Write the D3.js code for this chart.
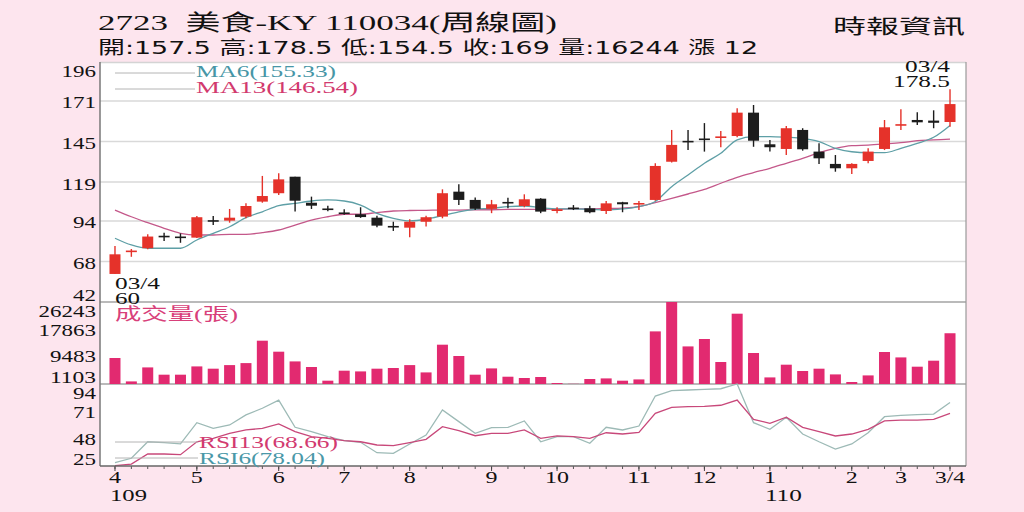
<!DOCTYPE html>
<html>
<head>
<meta charset="utf-8">
<script src="https://cdn.jsdelivr.net/npm/d3@7"></script>
<style>
body { margin: 0; background: #fde5ee; }
svg { display: block; }
</style>
</head>
<body>
<script>
// weekly candles, 109/03 .. 110/03/04
var opens  = [60, 74, 76.5, 84, 83.5, 83.3, 94, 94.2, 96.8, 106.4,
              111.8, 122.4, 105.7, 101.5, 99.4, 98.3, 96.1, 90.3, 89.7, 93.5,
              96.8, 112.8, 107.5, 101.8, 105.7, 103.6, 108.3, 100.4, 102.1, 102.1,
              100.4, 106, 104.8, 107.5, 132, 144.9, 146.4, 147.5, 148.5, 163.5,
              143.2, 140.2, 152.4, 138.5, 130.6, 127.8, 132.5, 140.2, 155.4, 158.8,
              158.4, 157.5];
var highs  = [78, 76, 85.5, 86.4, 86, 97.2, 97.2, 101.7, 105.3, 122.9,
              124.6, 122.4, 109.6, 103.8, 101.5, 102.8, 97.4, 93.5, 95.1, 97.4,
              114.3, 117.5, 109, 107.5, 108.9, 111.1, 108.6, 102.8, 104.2, 103.8,
              106.8, 106.3, 106.8, 131, 152.4, 152.4, 156.8, 151.8, 166.3, 168.4,
              146, 155, 153.5, 143.8, 136.3, 131, 140.6, 158.8, 165.7, 163.7,
              165, 178.5];
var lows   = [60, 71, 75.8, 81.2, 80, 83, 91.4, 92.9, 95.8, 105.7,
              110.7, 100, 101.7, 100.2, 98, 96, 89.9, 87.6, 83.5, 90.4,
              95.7, 104.3, 101, 99, 102.1, 102.8, 99, 99, 101, 99,
              98.5, 99.6, 101, 107, 131.5, 139.6, 138.5, 141.3, 147.7, 141.6,
              138.5, 136.3, 139.1, 130.5, 125.6, 124.2, 131, 139.5, 152.4, 155.6,
              153.5, 154.5];
var closes = [72.6, 75, 84, 84, 83.5, 96.4, 94, 96.1, 103.6, 110,
              120.7, 107, 103.8, 101.5, 98.5, 96.5, 91, 90.3, 93.5, 96.4,
              111.8, 107.5, 101.8, 104.7, 105.7, 107.9, 100, 101.5, 102.1, 99.6,
              105.3, 104.7, 105.2, 129.3, 142.8, 144.9, 146.4, 148, 163.5, 145.5,
              141.3, 153.5, 140, 134.2, 127.8, 130.6, 138.5, 154.1, 155.8, 157.3,
              157, 169];
var volumes = [8320, 830, 5310, 2980, 2980, 5630, 4900, 6050, 6690, 13860,
               10340, 7230, 5440, 1060, 4260, 4030, 4900, 5120, 6050, 3710,
               12580, 8960, 2980, 4990, 2330, 1920, 2240, 320, 60, 1600,
               1790, 1060, 1470, 16840, 26243, 12030, 14400, 7040, 22500, 9920,
               2110, 6180, 4160, 4900, 3070, 640, 2750, 10240, 8510, 5540,
               7460, 16244];
var ma6  = [82.9, 78.6, 76.5, 76.5, 76.5, 81.8, 86.1, 90.3, 96.1, 99.9,
            103.8, 105.3, 106.8, 107.5, 106.8, 104.2, 98.9, 95.7, 94, 95.1,
            97.4, 99.9, 101.5, 102.1, 103.2, 103.6, 102.5, 101.7, 101.7, 101.5,
            101, 101.7, 103.2, 106.5, 116, 123.5, 131, 137.4, 146, 148.1,
            148.1, 147.7, 147, 144.9, 140.6, 138.4, 137.8, 137.8, 140.6, 143.8,
            147.7, 155.33];
var ma13 = [101, 96.7, 92.9, 89.3, 86.1, 85, 85, 85.4, 85.4, 86.5,
            88.2, 91.4, 94.6, 96.7, 98.3, 98.3, 99.4, 100.4, 100.7, 100.8,
            101, 101, 101.2, 101.2, 101.4, 101.4, 101.5, 101.6, 101.7, 101.7,
            102, 102.3, 103.2, 105.8, 108.5, 111.3, 114.3, 118.2, 122, 125,
            127.8, 131, 134.2, 137.8, 140.6, 142.3, 142.7, 143.4, 144.2, 145.5,
            146, 146.54];
var rsi6  = [25.9, 29.7, 44, 43.2, 42.1, 60.5, 55.6, 58.5, 67.2, 73,
             80.1, 56.5, 52.7, 48.4, 44.9, 43.5, 34.5, 34, 42.1, 49.8,
             71.5, 61.4, 51.3, 56.2, 56.4, 62, 44, 48.4, 48.4, 42.7,
             56.5, 54.2, 57.6, 83.6, 88.2, 88.8, 89.4, 89.9, 94, 60.5,
             54.8, 65.2, 50.7, 44, 37.7, 42.1, 51.8, 65.7, 66.9, 67.4,
             68, 78.04];
var rsi13 = [23.3, 24.7, 33.4, 33.4, 32.8, 44, 47, 51.3, 54.2, 55.6,
             59.4, 52.7, 48.4, 47, 44.9, 44, 41.2, 40.6, 43.2, 46.1,
             57, 53.6, 49.2, 51.3, 51.3, 54.2, 47, 49, 48.4, 47,
             51.8, 50.7, 52.1, 68.6, 73.8, 74.4, 74.7, 75.6, 80.1, 63.4,
             60, 65.2, 56.5, 52.7, 49, 50.7, 54.8, 62, 62.8, 62.8,
             63.4, 68.66];

var priceTicks = [42, 68, 94, 119, 145, 171, 196];
var volTicks = [1103, 9483, 17863, 26243];
var rsiTicks = [25, 48, 71, 94];
var monthIdx = [0, 5, 10, 14, 18, 23, 27, 32, 36, 40, 45, 48, 51];
var monthLabels = ["4", "5", "6", "7", "8", "9", "10", "11", "12", "1", "2", "3", "3/4"];
var yearIdx = [0, 40];
var yearLabels = ["109", "110"];

var serif = "'Liberation Serif', 'DejaVu Serif', serif";
var cjk = "'Liberation Serif', 'Noto Sans CJK TC', serif";

var W = 1024, H = 512;
var pLeft = 100, pRight = 966, pTop = 62, priceBottom = 302, volBottom = 384, pBottom = 466;

var svg = d3.select("body")
            .append("svg")
            .attr('width', W)
            .attr('height', H);

svg.append("rect").attr('width', W).attr('height', H).attr('fill', "#fde5ee");
svg.append("rect")
   .attr('x', pLeft).attr('y', pTop)
   .attr('width', pRight - pLeft).attr('height', pBottom - pTop)
   .attr('fill', "#fff");

var xScale = d3.scaleBand()
               .domain(d3.range(opens.length))
               .range([106.8, 958.2]);
function cx(i){ return xScale(i) + xScale.bandwidth() / 2; }

var yPrice = d3.scaleLinear().domain([42, 196]).range([priceBottom, pTop]);
var yVol = d3.scaleLinear().domain([0, 26243]).range([volBottom, priceBottom]);
var yRsi = d3.scaleLinear().domain([23, 94]).range([pBottom, volBottom]);

function label(x, y, str, size, family, color, anchor, len) {
    var t = svg.append("text")
               .attr('x', x).attr('y', y)
               .attr('font-size', size)
               .attr('font-family', family)
               .attr('fill', color)
               .attr('text-anchor', anchor || "start")
               .attr('dominant-baseline', "central")
               .text(str);
    if (len) t.attr('textLength', len).attr('lengthAdjust', "spacingAndGlyphs");
    return t;
}

// grid in the price panel
svg.selectAll("line.grid")
   .data(priceTicks.slice(1, -1))
   .enter()
   .append("line")
   .attr('class', "grid")
   .attr('x1', pLeft).attr('x2', pRight)
   .attr('y1', function(d){ return yPrice(d); })
   .attr('y2', function(d){ return yPrice(d); })
   .attr('stroke', "#d9d9d9")
   .attr('stroke-width', 1.5);

// panel frames
svg.append("line").attr('x1', pLeft).attr('x2', pRight).attr('y1', pTop + 0.5).attr('y2', pTop + 0.5)
   .attr('stroke', "#d4d4d4").attr('stroke-width', 1.5);
[priceBottom, volBottom].forEach(function(y){
    svg.append("line").attr('x1', pLeft).attr('x2', pRight).attr('y1', y).attr('y2', y)
       .attr('stroke', "#777").attr('stroke-width', 1.2);
});
svg.append("line").attr('x1', pRight).attr('x2', pRight).attr('y1', pTop).attr('y2', pBottom)
   .attr('stroke', "#999").attr('stroke-width', 1.2);

// left axes
function leftAxis(scale, ticks, y0, y1) {
    var g = svg.append("g")
               .attr('transform', "translate(96,0)")
               .call(d3.axisLeft(scale).tickValues(ticks).tickSize(0).tickPadding(0)
                       .tickFormat(d3.format("d")));
    g.select(".domain").remove();
    g.selectAll(".tick text")
     .attr('font-family', serif)
     .attr('font-size', 17)
     .attr('fill', "#111")
     .attr('dy', null)
     .attr('dominant-baseline', "central")
     .attr('y', function(d){
         var p = scale(d);
         return Math.max(y0 + 9, Math.min(y1 - 7, p + 1.5)) - p;
     })
     .attr('textLength', function(d){ return String(d).length * 11.5; })
     .attr('lengthAdjust', "spacingAndGlyphs");
}
leftAxis(yPrice, priceTicks, pTop, priceBottom);
leftAxis(yVol, volTicks, priceBottom, volBottom);
leftAxis(yRsi, rsiTicks, volBottom, pBottom);

svg.append("line").attr('x1', pLeft).attr('x2', pLeft).attr('y1', pTop).attr('y2', pBottom)
   .attr('stroke', "#777").attr('stroke-width', 1.5);

// moving averages
var maLine = d3.line()
               .x(function(d, i){ return cx(i); })
               .y(function(d){ return yPrice(d); })
               .curve(d3.curveMonotoneX);
svg.append("path").attr('d', maLine(ma13)).attr('fill', "none")
   .attr('stroke', "#c4588a").attr('stroke-width', 1.3);
svg.append("path").attr('d', maLine(ma6)).attr('fill', "none")
   .attr('stroke', "#5e9fa6").attr('stroke-width', 1.3);

// candles
var idx = d3.range(opens.length);
function candleColor(i) { return closes[i] > opens[i] ? "#e5322a" : "#1c1c1c"; }
var bodyW = 11;

svg.selectAll("line.wick")
   .data(idx)
   .enter()
   .append("line")
   .attr('class', "wick")
   .attr('x1', function(i){ return cx(i); })
   .attr('x2', function(i){ return cx(i); })
   .attr('y1', function(i){ return yPrice(highs[i]); })
   .attr('y2', function(i){ return yPrice(lows[i]); })
   .attr('stroke', candleColor)
   .attr('stroke-width', 1.4);

svg.selectAll("rect.body")
   .data(idx)
   .enter()
   .append("rect")
   .attr('class', "body")
   .attr('x', function(i){ return cx(i) - bodyW / 2; })
   .attr('y', function(i){
       var h = Math.abs(yPrice(opens[i]) - yPrice(closes[i]));
       return yPrice(Math.max(opens[i], closes[i])) - (h < 1.6 ? (1.6 - h) / 2 : 0);
   })
   .attr('width', bodyW)
   .attr('height', function(i){ return Math.max(1.6, Math.abs(yPrice(opens[i]) - yPrice(closes[i]))); })
   .attr('fill', candleColor);

// volume bars
svg.selectAll("rect.vol")
   .data(volumes)
   .enter()
   .append("rect")
   .attr('class', "vol")
   .attr('x', function(d, i){ return cx(i) - 5.5; })
   .attr('y', function(d){ return yVol(d); })
   .attr('width', 11)
   .attr('height', function(d){ return volBottom - yVol(d); })
   .attr('fill', "#e22a70");

// RSI
var rsiLine = d3.line()
                .x(function(d, i){ return cx(i); })
                .y(function(d){ return yRsi(d); });
svg.append("path").attr('d', rsiLine(rsi6)).attr('fill', "none")
   .attr('stroke', "#9dbab6").attr('stroke-width', 1.3);
svg.append("path").attr('d', rsiLine(rsi13)).attr('fill', "none")
   .attr('stroke', "#c8487a").attr('stroke-width', 1.3);

// x axis
var xMinor = svg.append("g")
                .attr('transform', "translate(0," + pBottom + ")")
                .call(d3.axisBottom(xScale).tickSize(3).tickFormat(""));
xMinor.select(".domain").remove();
xMinor.selectAll(".tick line").attr('stroke', "#555");

var xAxis = svg.append("g")
               .attr('transform', "translate(0," + pBottom + ")")
               .call(d3.axisBottom(xScale)
                       .tickValues(monthIdx)
                       .tickSize(5)
                       .tickFormat(function(d){ return monthLabels[monthIdx.indexOf(d)]; }));
xAxis.select(".domain").remove();
xAxis.selectAll(".tick line").attr('stroke', "#444");
xAxis.selectAll(".tick text")
     .attr('font-family', serif)
     .attr('font-size', 17)
     .attr('fill', "#111")
     .attr('dy', null)
     .attr('y', 11)
     .attr('dominant-baseline', "central")
     .attr('textLength', function(d){ var s = monthLabels[monthIdx.indexOf(d)]; return s === "3/4" ? 30 : s.length * 12; })
     .attr('lengthAdjust', "spacingAndGlyphs");
svg.append("line").attr('x1', pLeft).attr('x2', pRight).attr('y1', pBottom).attr('y2', pBottom)
   .attr('stroke', "#666").attr('stroke-width', 1.5);

yearIdx.forEach(function(d, k){
    label(cx(d) - 5, 495, yearLabels[k], 17, serif, "#111", "start", 37);
});

// legends
[[73, "MA6(155.33)", "#4796a6", 140], [89, "MA13(146.54)", "#d23a6e", 162]].forEach(function(r){
    svg.append("line").attr('x1', 115).attr('x2', 195).attr('y1', r[0]).attr('y2', r[0])
       .attr('stroke', "#b4b4b4").attr('stroke-width', 1);
    label(196, r[0] - 1.5, r[1], 16, serif, r[2], "start", r[3]);
});
[[442, "RSI13(68.66)", "#d23a70", 139], [458, "RSI6(78.04)", "#4a98a8", 126]].forEach(function(r){
    svg.append("line").attr('x1', 115).attr('x2', 198).attr('y1', r[0]).attr('y2', r[0])
       .attr('stroke', "#b4b4b4").attr('stroke-width', 1);
    label(199, r[0], r[1], 16, serif, r[2], "start", r[3]);
});
label(115, 314, "成交量(張)", 17, cjk, "#d8407a", "start", 123);

// first / last candle notes
label(cx(0), 283, "03/4", 16, serif, "#111", "start", 45);
label(cx(0), 298, "60", 16, serif, "#111", "start", 25);
label(cx(51), 66, "03/4", 16, serif, "#111", "end", 45);
label(cx(51), 81, "178.5", 16, serif, "#111", "end", 57);

// header
label(98, 22, "2723\u00a0\u00a0美食-KY 110034(周線圖)", 22, cjk, "#111", "start", 459);
label(98, 47, "開:157.5 高:178.5 低:154.5 收:169 量:16244 漲 12", 18,
      "'DejaVu Sans', 'Noto Sans CJK TC', sans-serif", "#111", "start", 660);
label(833, 25, "時報資訊", 20, "'Noto Sans CJK TC', sans-serif", "#111", "start", 132);
</script>
</body>
</html>
